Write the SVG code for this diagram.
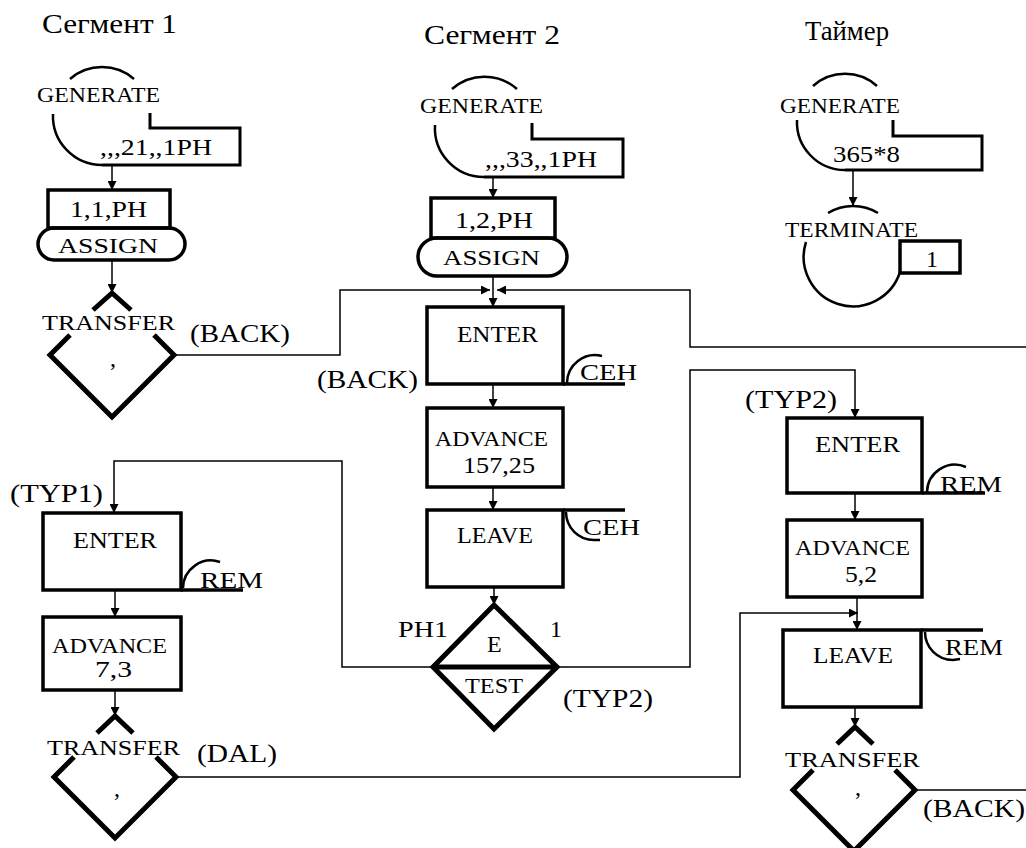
<svg xmlns="http://www.w3.org/2000/svg" width="1026" height="848" viewBox="0 0 1026 848">
<style>
text{font-family:"Liberation Serif","Times New Roman",serif;fill:#000}
.t{font-size:28px}
.k{font-size:22px}
.kb{font-size:24px}
.l{font-size:26px}
.n{font-size:24px}
.box{fill:none;stroke:#000;stroke-width:3.5}
.thk{fill:none;stroke:#000;stroke-width:3}
.arc{fill:none;stroke:#000;stroke-width:2.5}
.dia{fill:none;stroke:#000;stroke-width:5;stroke-linejoin:miter}
.c{fill:none;stroke:#000;stroke-width:1.5}
</style>
<defs>
<marker id="ah" markerWidth="9" markerHeight="9" refX="9" refY="4.5" orient="auto" markerUnits="userSpaceOnUse">
<path d="M0,0 L9,4.5 L0,9 z" fill="#000"/>
</marker>
</defs>
<rect width="1026" height="848" fill="#fff"/>

<g id="titles">
<text class="t" x="42" y="33" textLength="135" lengthAdjust="spacingAndGlyphs">Сегмент 1</text>
<text class="t" x="424" y="44" textLength="136" lengthAdjust="spacingAndGlyphs">Сегмент 2</text>
<text class="t" x="805" y="40" textLength="84" lengthAdjust="spacingAndGlyphs">Таймер</text>
</g>

<g id="connectors">
<line class="c" x1="112" y1="165" x2="112" y2="190" marker-end="url(#ah)"/>
<line class="c" x1="112" y1="260" x2="112" y2="293" marker-end="url(#ah)"/>
<line class="c" x1="493" y1="177" x2="493" y2="198" marker-end="url(#ah)"/>
<line class="c" x1="493" y1="276" x2="493" y2="307" marker-end="url(#ah)"/>
<path class="c" d="M174,355 H340 V290 H490" marker-end="url(#ah)"/>
<path class="c" d="M1026,347 H690 V290 H497" marker-end="url(#ah)"/>
<line class="c" x1="493" y1="384" x2="493" y2="408" marker-end="url(#ah)"/>
<line class="c" x1="493" y1="487" x2="493" y2="510" marker-end="url(#ah)"/>
<line class="c" x1="494" y1="587" x2="494" y2="605" marker-end="url(#ah)"/>
<path class="c" d="M433,667 H342 V461 H114 V513" marker-end="url(#ah)"/>
<path class="c" d="M557,667 H690 V370 H855 V418" marker-end="url(#ah)"/>
<line class="c" x1="115" y1="590" x2="115" y2="617" marker-end="url(#ah)"/>
<line class="c" x1="115" y1="690" x2="115" y2="716" marker-end="url(#ah)"/>
<path class="c" d="M176,777 H740 V613 H858" marker-end="url(#ah)"/>
<line class="c" x1="855" y1="493" x2="855" y2="520" marker-end="url(#ah)"/>
<line class="c" x1="857" y1="597" x2="857" y2="630" marker-end="url(#ah)"/>
<line class="c" x1="855" y1="707" x2="855" y2="727" marker-end="url(#ah)"/>
<line class="c" x1="915" y1="790" x2="1026" y2="790"/>
<line class="c" x1="853" y1="170" x2="853" y2="206" marker-end="url(#ah)"/>
</g>

<g id="gen1">
<path class="arc" d="M70,79 A49,49 0 0 1 134,79"/>
<path class="arc" d="M53,114 A49,49 0 0 0 102,165"/>
<path class="thk" d="M102,165 H240 V128 H150 V113"/>
<text class="k" x="37" y="102" textLength="123" lengthAdjust="spacingAndGlyphs">GENERATE</text>
<text class="n" x="100" y="155" textLength="112" lengthAdjust="spacingAndGlyphs">,,,21,,1PH</text>
</g>
<g id="assign1">
<rect class="box" x="48" y="190" width="122" height="38"/>
<rect class="box" x="38" y="228" width="147" height="32" rx="16"/>
<text class="n" x="70" y="217" textLength="77" lengthAdjust="spacingAndGlyphs">1,1,PH</text>
<text class="k" x="58" y="253" textLength="100" lengthAdjust="spacingAndGlyphs">ASSIGN</text>
</g>
<g id="transfer1">
<path class="dia" d="M93,310 L112,293 L131,310"/>
<path class="dia" d="M70,335 L50,355 L112,417 L174,355 L154,335"/>
<text class="k" x="42" y="330" textLength="133" lengthAdjust="spacingAndGlyphs">TRANSFER</text>
<text class="n" x="110" y="366">,</text>
<text class="l" x="190" y="342" textLength="100" lengthAdjust="spacingAndGlyphs">(BACK)</text>
</g>

<g id="gen2">
<path class="arc" d="M452,89 A49,49 0 0 1 517,89"/>
<path class="arc" d="M435,125 A49,49 0 0 0 484,177"/>
<path class="thk" d="M484,177 H623 V139 H532 V123"/>
<text class="k" x="420" y="113" textLength="123" lengthAdjust="spacingAndGlyphs">GENERATE</text>
<text class="n" x="485" y="167" textLength="112" lengthAdjust="spacingAndGlyphs">,,,33,,1PH</text>
</g>
<g id="assign2">
<rect class="box" x="431" y="198" width="124" height="40"/>
<rect class="box" x="418" y="238" width="149" height="38" rx="19"/>
<text class="n" x="455" y="228" textLength="78" lengthAdjust="spacingAndGlyphs">1,2,PH</text>
<text class="k" x="443" y="265" textLength="97" lengthAdjust="spacingAndGlyphs">ASSIGN</text>
</g>
<g id="enter2">
<rect class="box" x="427" y="307" width="136" height="77"/>
<line class="box" x1="563" y1="384" x2="625" y2="384"/>
<path class="arc" d="M567,383 A28,28 0 0 1 602,356"/>
<text class="kb" x="457" y="342" textLength="81" lengthAdjust="spacingAndGlyphs">ENTER</text>
<text class="n" x="580" y="380" textLength="57" lengthAdjust="spacingAndGlyphs">CEH</text>
<text class="l" x="317" y="388" textLength="101" lengthAdjust="spacingAndGlyphs">(BACK)</text>
</g>
<g id="advance2">
<rect class="box" x="427" y="408" width="136" height="79"/>
<text class="k" x="435" y="446" textLength="113" lengthAdjust="spacingAndGlyphs">ADVANCE</text>
<text class="n" x="463" y="473" textLength="72" lengthAdjust="spacingAndGlyphs">157,25</text>
</g>
<g id="leave2">
<rect class="box" x="427" y="510" width="136" height="77"/>
<line class="box" x1="563" y1="510" x2="625" y2="510"/>
<path class="arc" d="M566,512 A28,28 0 0 0 594,540 L600,540"/>
<text class="kb" x="457" y="543" textLength="76" lengthAdjust="spacingAndGlyphs">LEAVE</text>
<text class="n" x="583" y="535" textLength="57" lengthAdjust="spacingAndGlyphs">CEH</text>
</g>
<g id="test2">
<path class="dia" d="M494,605 L557,667 L494,729 L433,667 Z M433,667 H557"/>
<text class="n" x="487" y="652">E</text>
<text class="k" x="465" y="693" textLength="58" lengthAdjust="spacingAndGlyphs">TEST</text>
<text class="n" x="398" y="637" textLength="50" lengthAdjust="spacingAndGlyphs">PH1</text>
<text class="n" x="550" y="637">1</text>
<text class="l" x="563" y="707" textLength="90" lengthAdjust="spacingAndGlyphs">(TYP2)</text>
</g>

<g id="enter1">
<rect class="box" x="43" y="513" width="138" height="77"/>
<line class="box" x1="181" y1="590" x2="243" y2="590"/>
<path class="arc" d="M183,588 A28,28 0 0 1 220,562"/>
<text class="kb" x="73" y="548" textLength="84" lengthAdjust="spacingAndGlyphs">ENTER</text>
<text class="n" x="200" y="588" textLength="63" lengthAdjust="spacingAndGlyphs">REM</text>
<text class="l" x="10" y="502" textLength="93" lengthAdjust="spacingAndGlyphs">(TYP1)</text>
</g>
<g id="advance1">
<rect class="box" x="43" y="617" width="138" height="73"/>
<text class="k" x="52" y="653" textLength="115" lengthAdjust="spacingAndGlyphs">ADVANCE</text>
<text class="n" x="95" y="677" textLength="37" lengthAdjust="spacingAndGlyphs">7,3</text>
</g>
<g id="transfer1b">
<path class="dia" d="M97,733 L115,716 L133,733"/>
<path class="dia" d="M74,757 L54,777 L115,838 L176,777 L156,757"/>
<text class="k" x="47" y="755" textLength="133" lengthAdjust="spacingAndGlyphs">TRANSFER</text>
<text class="n" x="114" y="796">,</text>
<text class="l" x="197" y="762" textLength="80" lengthAdjust="spacingAndGlyphs">(DAL)</text>
</g>

<g id="enter3">
<rect class="box" x="787" y="418" width="135" height="75"/>
<line class="box" x1="922" y1="493" x2="985" y2="493"/>
<path class="arc" d="M927,492 A28,28 0 0 1 966,467"/>
<text class="kb" x="815" y="452" textLength="85" lengthAdjust="spacingAndGlyphs">ENTER</text>
<text class="n" x="940" y="492" textLength="62" lengthAdjust="spacingAndGlyphs">REM</text>
<text class="l" x="745" y="408" textLength="92" lengthAdjust="spacingAndGlyphs">(TYP2)</text>
</g>
<g id="advance3">
<rect class="box" x="787" y="520" width="135" height="77"/>
<text class="k" x="795" y="555" textLength="115" lengthAdjust="spacingAndGlyphs">ADVANCE</text>
<text class="n" x="845" y="582" textLength="32" lengthAdjust="spacingAndGlyphs">5,2</text>
</g>
<g id="leave3">
<rect class="box" x="783" y="630" width="138" height="77"/>
<line class="box" x1="921" y1="630" x2="983" y2="630"/>
<path class="arc" d="M925,632 A28,28 0 0 0 953,660 L960,659"/>
<text class="kb" x="813" y="663" textLength="80" lengthAdjust="spacingAndGlyphs">LEAVE</text>
<text class="n" x="945" y="655" textLength="58" lengthAdjust="spacingAndGlyphs">REM</text>
</g>
<g id="transfer3">
<path class="dia" d="M837,744 L855,727 L873,744"/>
<path class="dia" d="M813,770 L793,790 L854,851 L915,790 L895,770"/>
<text class="k" x="785" y="767" textLength="135" lengthAdjust="spacingAndGlyphs">TRANSFER</text>
<text class="n" x="855" y="795">,</text>
<text class="l" x="923" y="817" textLength="102" lengthAdjust="spacingAndGlyphs">(BACK)</text>
</g>

<g id="gen3">
<path class="arc" d="M813,86 A48,48 0 0 1 877,86"/>
<path class="arc" d="M797,120 A48,48 0 0 0 845,170"/>
<path class="thk" d="M845,170 H982 V136 H893 V120"/>
<text class="k" x="780" y="113" textLength="120" lengthAdjust="spacingAndGlyphs">GENERATE</text>
<text class="n" x="833" y="162" textLength="67" lengthAdjust="spacingAndGlyphs">365*8</text>
</g>
<g id="terminate3">
<path class="arc" d="M828,213 A48,48 0 0 1 878,213"/>
<path class="arc" d="M806,242 A49,49 0 0 0 900,272"/>
<rect class="box" x="900" y="241" width="60" height="32"/>
<text class="k" x="785" y="237" textLength="133" lengthAdjust="spacingAndGlyphs">TERMINATE</text>
<text class="n" x="926" y="267">1</text>
</g>
</svg>
